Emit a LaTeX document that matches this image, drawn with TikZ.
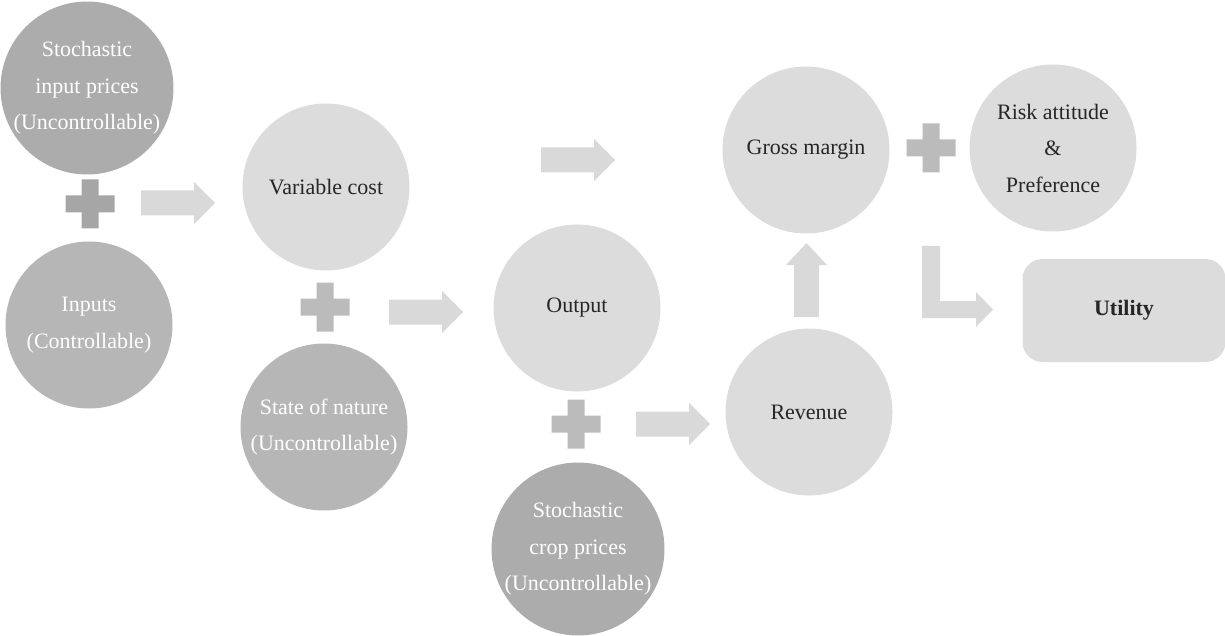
\documentclass[tikz,border=0pt]{standalone}
\usepackage{fontspec}
\setmainfont{Liberation Serif}
\definecolor{lightfill}{HTML}{DCDCDC}
\definecolor{darkA}{HTML}{ACACAC}
\definecolor{darkB}{HTML}{B6B6B6}
\definecolor{plusA}{HTML}{A6A6A6}
\definecolor{plusB}{HTML}{BBBBBB}
\definecolor{arrowfill}{HTML}{D9D9D9}
\definecolor{darktext}{HTML}{262626}
\tikzset{
  bubble/.style={circle, inner sep=0pt, minimum size=167pt, align=center,
    font=\fontsize{22}{36.5}\selectfont},
  lightc/.style={bubble, fill=lightfill, text=darktext},
  darkc/.style={bubble, text=white},
  utilbox/.style={rectangle, rounded corners=20pt, fill=lightfill, text=darktext,
    minimum width=203pt, minimum height=103pt, font=\fontsize{22}{26}\selectfont\bfseries},
  plussign/.pic={
    \fill (-24.5,-8.5) -- (-8.5,-8.5) -- (-8.5,-24.5) -- (8.5,-24.5) -- (8.5,-8.5)
      -- (24.5,-8.5) -- (24.5,8.5) -- (8.5,8.5) -- (8.5,24.5) -- (-8.5,24.5)
      -- (-8.5,8.5) -- (-24.5,8.5) -- cycle;
  },
  rarrow/.pic={
    \fill (0,-12.5) -- (53,-12.5) -- (53,-21) -- (74,0) -- (53,21) -- (53,12.5)
      -- (0,12.5) -- cycle;
  },
}
\begin{document}
\begin{tikzpicture}[x=1pt,y=-1pt]
\useasboundingbox (0,0) rectangle (1225,636);

% circles
\node[darkc, fill=darkA] (sip) at (87,88) {Stochastic\\input prices\\(Uncontrollable)};
\node[darkc, fill=darkB] (inp) at (89,325) {Inputs\\(Controllable)};
\node[lightc] (vc) at (326,187) {Variable cost};
\node[darkc, fill=darkB] (son) at (324,427) {State of nature\\(Uncontrollable)};
\node[lightc] (out) at (577,308) {Output};
\node[darkc, fill=darkA] (scp) at (578,549) {Stochastic\\crop prices\\(Uncontrollable)};
\node[lightc] (rev) at (809,412) {Revenue};
\node[lightc] (gm) at (806,150) {Gross margin};
\node[lightc] (risk) at (1053,148) {Risk attitude\\\&\\Preference};
\node[utilbox] (util) at (1124,310.5) {Utility};

% plus signs
\pic[fill=plusA] at (90,204) {plussign};
\pic[fill=plusB] at (325,307) {plussign};
\pic[fill=plusB] at (576,424) {plussign};
\pic[fill=plusB] at (931,148) {plussign};

% block arrows
\pic[fill=arrowfill] at (141,203) {rarrow};
\pic[fill=arrowfill] at (389,312) {rarrow};
\pic[fill=arrowfill] at (636,424) {rarrow};
\pic[fill=arrowfill] at (541,160) {rarrow};

% up arrow from Revenue to Gross margin
\fill[arrowfill] (794,317) -- (794,265) -- (786,265) -- (806.5,243) -- (827,265)
  -- (819,265) -- (819,317) -- cycle;

% L-shaped arrow to Utility
\fill[arrowfill] (922,246) -- (940,246) -- (940,301) -- (976,301) -- (976,292)
  -- (993,309.5) -- (976,327) -- (976,318) -- (922,318) -- cycle;
\end{tikzpicture}
\end{document}
